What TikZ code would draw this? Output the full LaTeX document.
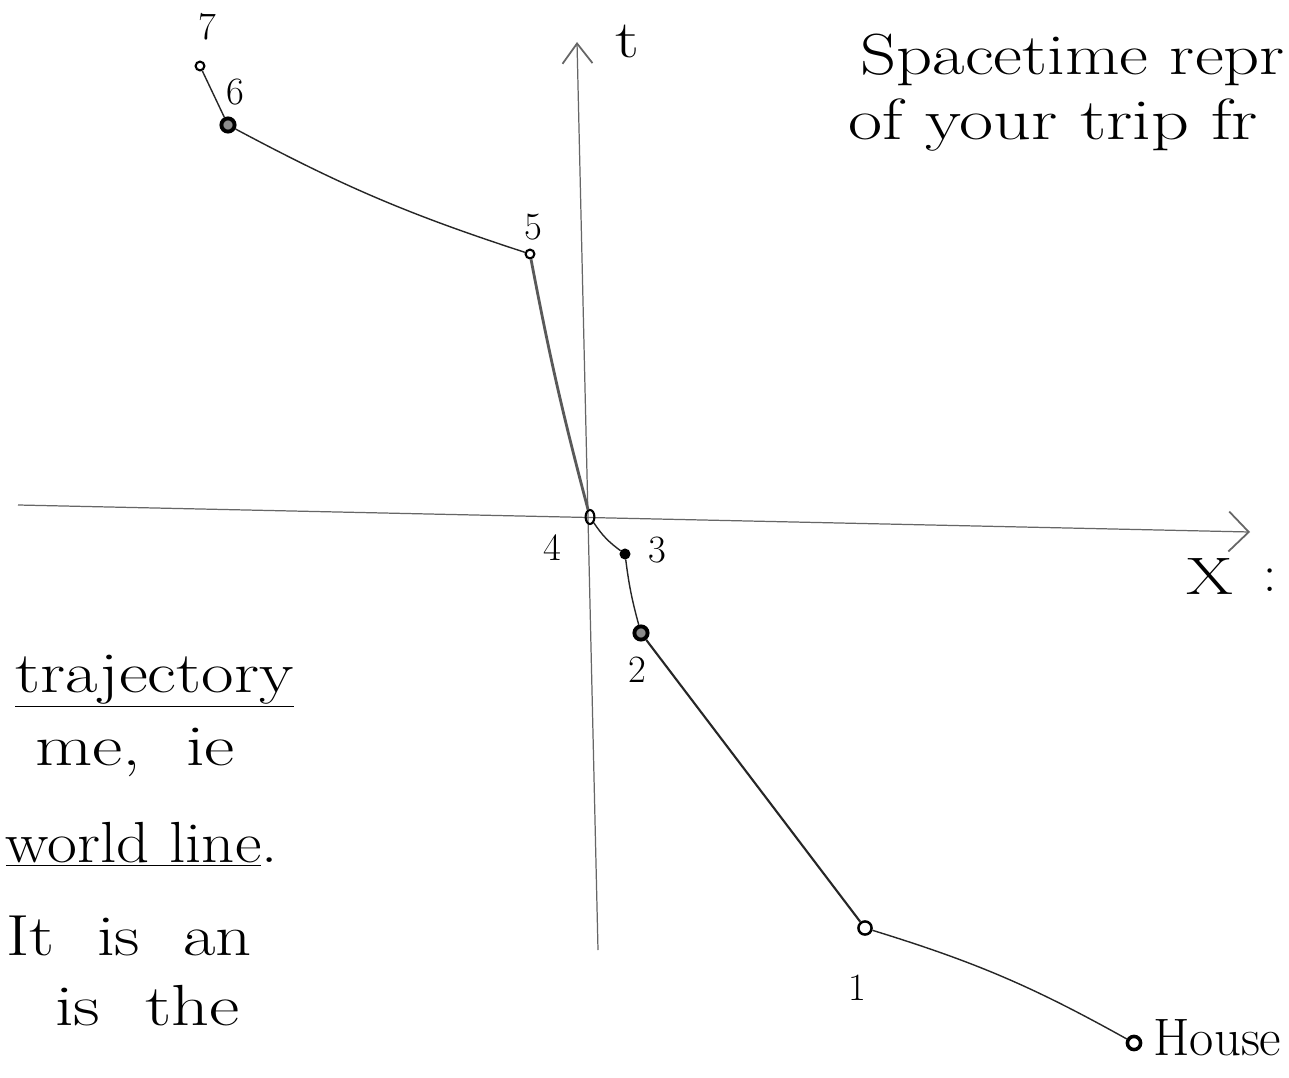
\documentclass[tikz,border=0pt]{standalone}
\usetikzlibrary{arrows.meta,shapes.geometric}
\newcommand\hand[2][1.28]{\scalebox{#1}[1]{#2}}
\begin{document}
\begin{tikzpicture}[x=0.02cm,y=-0.02cm,pt/.style={circle,draw,line width=1.4pt,inner sep=0pt,minimum size=7.5pt},sm/.style={pt,minimum size=5pt,line width=1.2pt},big/.style={pt,line width=2.2pt,fill=black!45},ax/.style={draw=black!60,line width=.7pt},wl/.style={draw=black!85,line width=.8pt},num/.style={font=\fontsize{22}{26}\selectfont},hw/.style={font=\fontsize{33}{40}\selectfont,anchor=base west,inner sep=0pt}]
\clip (0,0) rectangle (1289,1078);
\fill[white] (0,0) rectangle (1289,1078);
% axes
\coordinate (tb) at (598,950); \coordinate (tt) at (577,42);
\coordinate (xl) at (18,505); \coordinate (xr) at (1250,532);
\draw[ax,-{Straight Barb[length=4mm,width=6mm,line width=1pt]}] (tb) -- (tt);
\draw[ax,-{Straight Barb[length=4mm,width=8mm,line width=1pt]}] (xl) -- (xr);
\node[font=\fontsize{30}{34}\selectfont] (tl) at (627,42) {\hand{t}};
\node[font=\fontsize{30}{34}\selectfont] (xlab) at (1210,576) {\hand{X}};
\node[font=\fontsize{30}{34}\selectfont] (col) at (1270,580) {:};
% events
\node[sm] (p7) at (200,66) {};
\node[big] (p6) at (228,125) {};
\node[sm] (p5) at (530,254) {};
\node[sm,ellipse,minimum width=5pt,minimum height=8pt] (p4) at (590,517) {};
\node[sm,fill] (p3) at (625,554) {};
\node[big] (p2) at (641,633) {};
\node[pt] (p1) at (865,928) {};
\node[pt,line width=2pt] (ph) at (1134,1043) {};
\node[num] at (207,27) {7};
\node[num] at (235,92) {6};
\node[num] at (533,227) {5};
\node[num] at (552,548) {4};
\node[num] at (657,550) {3};
\node[num] at (637,670) {2};
\node[num] at (857,988) {1};
\node[hw,font=\fontsize{30}{34}\selectfont] (house) at (1153,1055) {House};
% world line
\draw[wl] (ph) to[bend right=6] (p1);
\draw[wl,line width=1.2pt] (p1) -- (p2);
\draw[wl] (p2) to[bend left=4] (p3);
\draw[wl] (p3) to[bend left=10] (p4);
\draw[wl,draw=black!65,line width=1.6pt] (p4) to[bend left=2] (p5);
\draw[wl] (p5) to[bend left=5] (p6);
\draw[wl] (p6) -- (p7);
% notes
\node[hw] (n1) at (860,75) {\hand[1.22]{Spacetime repr}};
\node[hw] (n2) at (848,140) {\hand{of your trip fr}};
\node[hw] (n3) at (15,692) {\hand[1.22]{\underline{trajectory}}};
\node[hw] (n4) at (35,765) {\hand{me,\ \ ie}};
\node[hw,anchor=base east] (n5) at (278,862) {\hand[1.12]{\underline{world line}.}};
\node[hw,anchor=base east] (n6) at (252,955) {\hand[1.22]{It \ is \ an}};
\node[hw] (n7) at (55,1025) {\hand{is \ the}};
\end{tikzpicture}
\end{document}
